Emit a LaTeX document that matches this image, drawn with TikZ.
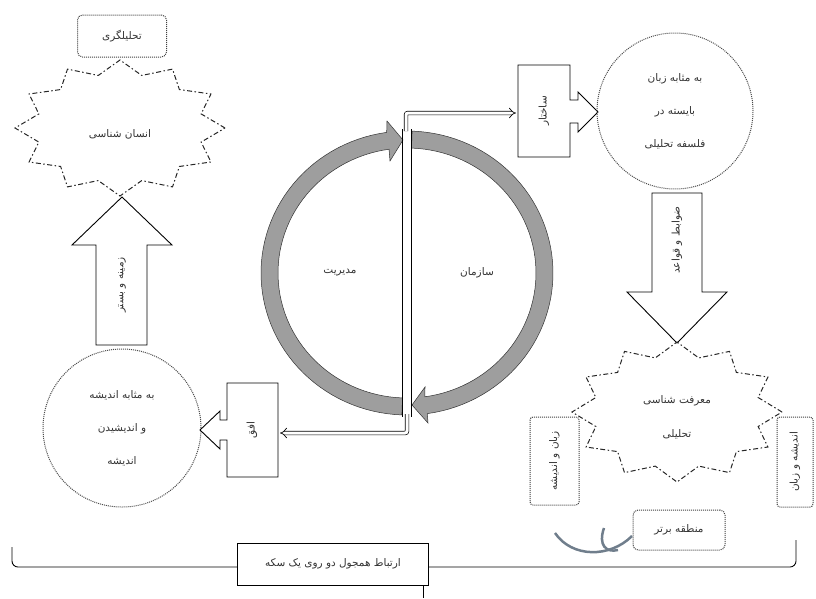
\documentclass[tikz,border=0pt]{standalone}
\usepackage{fontspec}
\usepackage{tikz}
\usetikzlibrary{arrows.meta}
\newfontfamily\arabicfont[Script=Arabic]{DejaVu Sans}
\TeXXeTstate=1
\newcommand\fa[1]{{\arabicfont\beginR #1\endR}}
\definecolor{markgray}{RGB}{112,126,140}
% star with 12 points: name, cx, cy, rx, ry
\newcommand\starburst[5]{%
  \draw[starline] ({#2+#4},#3) \foreach \k in {1,...,23}{
    -- ({#2+#4*(1-0.2*mod(\k,2))*cos(15*\k)},{#3-#5*(1-0.2*mod(\k,2))*sin(15*\k)})} -- cycle;
  \coordinate (#1) at (#2,#3);}
\tikzset{
  starline/.style={draw=black!85, line width=1pt, dash pattern=on 5pt off 2.5pt on 1.5pt off 2.5pt},
  dotcircle/.style={circle, draw=black!70, line width=1pt, densely dotted, inner sep=0pt, align=center},
  dotbox/.style={draw=black!75, line width=1pt, densely dotted, rounded corners=3pt},
  ringarrow/.style={fill=black!38, draw=black!80, line width=0.5pt},
  blockarrow/.style={draw=black, line width=0.9pt, fill=white},
  dbl/.style={draw=black, double=white, double distance=3pt, line width=0.7pt, -{Implies}, rounded corners=2pt},
  every node/.style={font=\fontsize{10.5}{12}\selectfont, text=black!80}
}
\begin{document}
\begin{tikzpicture}[x=1pt,y=-1pt]
    \useasboundingbox (0,0) rectangle (816,598);
    % left column
    \node[dotbox, rounded corners=5pt, minimum width=89pt, minimum height=42pt] (analyst) at (122,36) {\fa{تحلیلگری}};
    \starburst{anthro}{120}{128}{105}{68}
    \node at (anthro) [yshift=-6pt] {\fa{انسان شناسی}};
    \draw[blockarrow] (96,345) -- (96,245) -- (72,245) -- (122,197) -- (172,245) -- (147,245) -- (147,345) -- cycle;
    \node[rotate=90] (context) at (122,285) {\fa{زمینه و بستر}};
    \node[dotcircle, minimum size=158pt] (thought) at (122,428)
      {\fa{به مثابه اندیشه}\\[21pt]\fa{و اندیشیدن}\\[21pt]\fa{اندیشه}};
    \draw[blockarrow] (278,383) -- (227,383) -- (227,420) -- (220,420) -- (220,411) -- (200,430)
      -- (220,449) -- (220,440) -- (227,440) -- (227,477) -- (278,477) -- cycle;
    \node[rotate=90] (horizon) at (252,430) {\fa{افق}};
    % ring
    \filldraw[ringarrow] plot[domain=268:98,samples=60] ({407+146*cos(\x)},{273-142*sin(\x)})
      -- (387,121) -- (403,140) -- (390,161)
      -- plot[domain=98:268,samples=60] ({407+129*cos(\x)},{273-125*sin(\x)}) -- cycle;
    \filldraw[ringarrow] plot[domain=88:-82,samples=60] ({407+146*cos(\x)},{273-142*sin(\x)})
      -- (428,423) -- (412,405) -- (425,387)
      -- plot[domain=-82:88,samples=60] ({407+129*cos(\x)},{273-125*sin(\x)}) -- cycle;
    \draw[line width=0.8pt] (402,129) -- (402,417) (411,129) -- (411,417);
    \node (manage) at (340,273) {\fa{مدیریت}};
    \node (org) at (477,273) {\fa{سازمان}};
    % right column
    \draw[blockarrow] (518,65) -- (570,65) -- (570,100) -- (578,100) -- (578,92) -- (598,112)
      -- (578,132) -- (578,123) -- (570,123) -- (570,157) -- (518,157) -- cycle;
    \node[rotate=90] (struct) at (544,111) {\fa{ساختار}};
    \draw[dbl] (406,131) |- (516,113);
    \draw[dbl] (407,414) |- (280,433);
    \node[dotcircle, minimum size=156pt] (lang) at (675,111)
      {\fa{به مثابه زبان}\\[21pt]\fa{بایسته در}\\[21pt]\fa{فلسفه تحلیلی}};
    \draw[blockarrow] (652,193) -- (702,193) -- (702,292) -- (727,292) -- (677,343) -- (627,292) -- (652,292) -- cycle;
    \node[rotate=90] (rules) at (677,240) {\fa{ضوابط و قواعد}};
    \starburst{episteme}{677}{412}{105}{70}
    \node at (episteme) [align=center, yshift=-5pt] {\fa{معرفت شناسی}\\[22pt]\fa{تحلیلی}};
    \node[dotbox, rotate=90, minimum width=88pt, minimum height=49pt] (lrect) at (554.5,461) {\fa{زبان و اندیشه}};
    \node[dotbox, rotate=90, minimum width=90pt, minimum height=36pt] (rrect) at (795,462) {\fa{اندیشه و زبان}};
    \node[dotbox, rounded corners=5pt, minimum width=92pt, minimum height=40pt] (logic) at (679,530) {\fa{منطقه برتر}};
    \draw[markgray, line width=2.5pt] (555,533) .. controls (572,558) and (610,558) .. (632,536);
    \draw[markgray, line width=2.5pt] (604,528) .. controls (598,545) and (606,553) .. (618,550);
    % bottom bracket
    \draw[line width=0.9pt, rounded corners=6pt] (12,547) |- (796,567) -- (796,540);
    \node[draw=black, line width=0.9pt, fill=white, minimum width=191pt, minimum height=42pt] (coin) at (333,564)
      {\fa{ارتباط همجول دو روی یک سکه}};
    \coordinate (tickend) at (423,598);
    \draw[line width=0.9pt] (coin.south -| tickend) -- (tickend);
\end{tikzpicture}
\end{document}
